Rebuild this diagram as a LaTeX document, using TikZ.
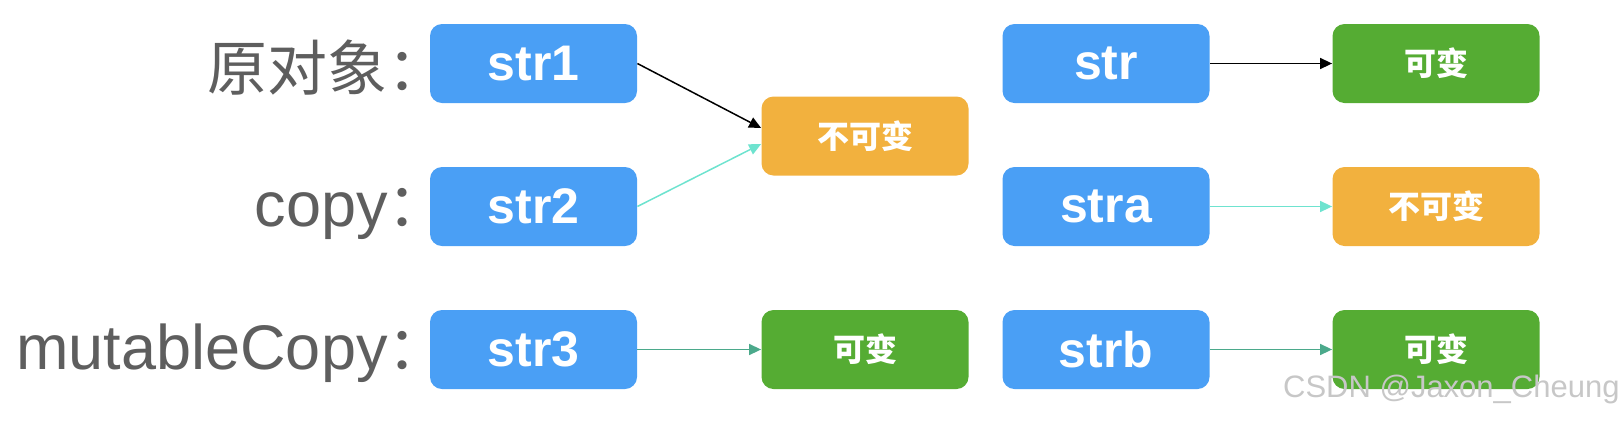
\documentclass[tikz,border=0pt]{standalone}
\usepackage{fontspec}
\setmainfont{Liberation Sans}
\newfontfamily\cjk{Noto Sans CJK SC}
\usetikzlibrary{arrows.meta}
\usetikzlibrary{positioning}
\definecolor{mblue}{HTML}{4A9FF5}
\definecolor{morange}{HTML}{F2B13E}
\definecolor{mgreen}{HTML}{55AC33}
\definecolor{mcyan}{HTML}{6EE3CF}
\definecolor{mteal}{HTML}{4BA98B}
\definecolor{mgray}{HTML}{5E5E5E}
\tikzset{strbox/.style = {fill = mblue, rounded corners = 6pt, text = white,
    minimum width = 103.5pt, minimum height = 39.5pt, inner sep = 0,
    font = \fontsize{25}{25}\selectfont\bfseries}}
\tikzset{valbox/.style = {rounded corners = 6pt, text = white,
    minimum width = 103.5pt, minimum height = 39.5pt, inner sep = 0,
    font = \fontsize{16}{16}\selectfont\cjk\bfseries}}
\tikzset{rowlabel/.style = {anchor = base east, inner sep = 0, text = mgray,
    font = \fontsize{31.5}{31.5}\selectfont}}
\tikzset{ref/.style = {line width = 0.75pt, -{Triangle[length = 6pt, width = 5.5pt]}}}

\begin{document}
\begin{tikzpicture}[x = 0.5pt, y = -0.5pt]
    \useasboundingbox (0, 0) rectangle (1624, 430);

    \node [rowlabel] (lorig) at (448, 90) {\cjk\fontsize{30}{30}\selectfont 原对象：};
    \node [rowlabel] (lcopy) at (448, 226) {copy\cjk\fontsize{30}{30}\selectfont ：};
    \node [rowlabel] (lmut) at (448, 369) {mutableCopy\cjk\fontsize{30}{30}\selectfont ：};

    \node [strbox] (str1) at (533.5, 63.5) {str1};
    \node [strbox] (str2) at (533.5, 206.5) {str2};
    \node [strbox] (str3) at (533.5, 349.5) {str3};

    \node [valbox, fill = morange] (imm1) at (865, 136) {不可变};
    \node [valbox, fill = mgreen] (mut1) at (865, 349.5) {可变};

    \node [strbox] (str) at (1106, 63.5) {str};
    \node [strbox] (stra) at (1106, 206.5) {stra};
    \node [strbox] (strb) at (1106, 349.5) {strb};

    \node [valbox, fill = mgreen] (mut2) at (1436, 63.5) {可变};
    \node [valbox, fill = morange] (imm2) at (1436, 206.5) {不可变};
    \node [valbox, fill = mgreen] (mut3) at (1436, 349.5) {可变};

    \draw [ref] (str1.east) -- ([yshift = 4pt] imm1.west);
    \draw [ref, mcyan] (str2.east) -- ([yshift = -4pt] imm1.west);
    \draw [ref, mteal] (str3.east) -- (mut1.west);
    \draw [ref] (str.east) -- (mut2.west);
    \draw [ref, mcyan] (stra.east) -- (imm2.west);
    \draw [ref, mteal] (strb.east) -- (mut3.west);

    \node [anchor = base east, inner sep = 0, text = black!22,
        font = \fontsize{15.5}{15.5}\selectfont] (mark) at (1620, 397) {CSDN @Jaxon\_Cheung};
  \end{tikzpicture}
\end{document}
